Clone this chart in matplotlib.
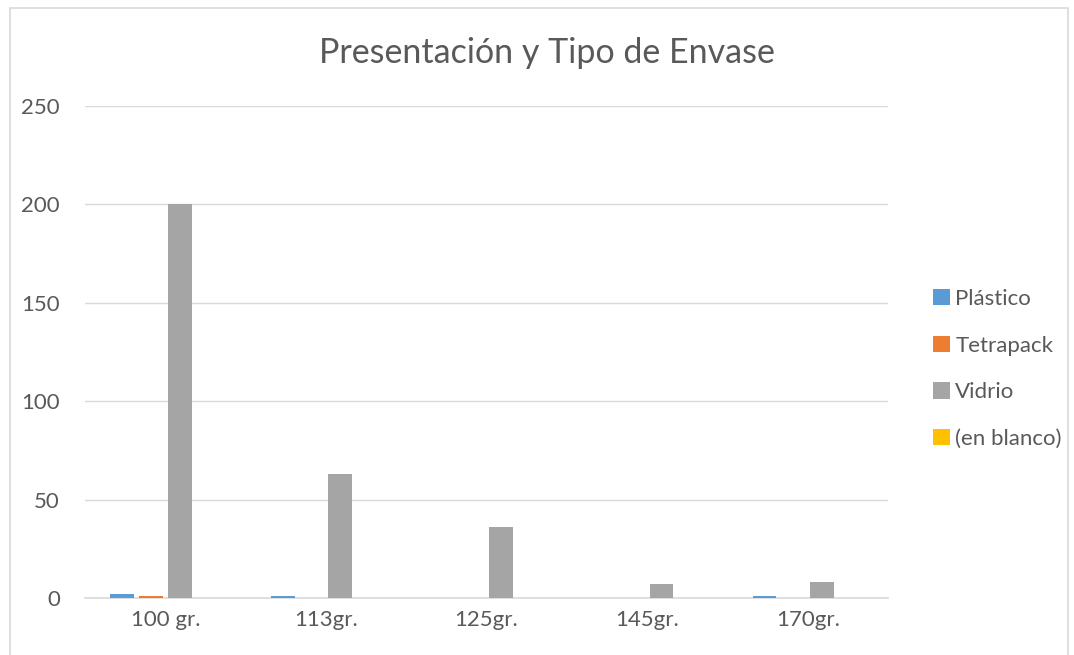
import matplotlib
matplotlib.use("Agg")
import matplotlib.pyplot as plt
from matplotlib.patches import Rectangle, Patch
import numpy as np

plt.rcParams['font.family'] = ['Lato', 'DejaVu Sans']

categories = ["100 gr.", "113gr.", "125gr.", "145gr.", "170gr."]
series_names = ["Plástico", "Tetrapack", "Vidrio", "(en blanco)"]
plastico = [2, 1, 0, 0, 1]
tetrapack = [1, 0, 0, 0, 0]
vidrio = [200, 63, 36, 7, 8]
en_blanco = [0, 0, 0, 0, 0]
colors = ["#5B9BD5", "#ED7D31", "#A5A5A5", "#FFC000"]

fig = plt.figure(figsize=(10.74, 6.55), dpi=100)
fig.patches.append(Rectangle((10 / 1074, -0.05), 1058 / 1074, 1.05 - 8 / 655,
                             transform=fig.transFigure, fill=False,
                             edgecolor="#D9D9D9", linewidth=1.2))

ax = fig.add_axes([85 / 1074, 1 - 598 / 655, 803 / 1074, 492 / 655])
x = np.arange(len(categories))
step = 0.179
width = 0.148
for i, (vals, col) in enumerate(zip([plastico, tetrapack, vidrio, en_blanco], colors)):
    ax.bar(x + (i - 1.5) * step, vals, width=width, color=col, zorder=3)

ax.set_xlim(-0.5, len(categories) - 0.5)
ax.set_ylim(0, 250)
ax.set_yticks(range(0, 251, 50))
ax.yaxis.grid(True, color="#D9D9D9", linewidth=1)
ax.set_axisbelow(True)
for s in ["top", "right", "left"]:
    ax.spines[s].set_visible(False)
ax.spines["bottom"].set_color("#D9D9D9")
ax.spines["bottom"].set_linewidth(1.2)
ax.set_xticks(x)
ax.set_xticklabels(categories)
ax.tick_params(axis="both", length=0, labelsize=16, colors="#595959")
ax.tick_params(axis="x", pad=9)
ax.tick_params(axis="y", pad=18)

fig.text(547 / 1074, 1 - 53 / 655, "Presentación y Tipo de Envase", ha="center",
         va="center", fontsize=24.5, color="#595959")

handles = [Patch(facecolor=c) for c in colors]
leg = fig.legend(handles, series_names, loc="center left",
                 bbox_to_anchor=(913 / 1074, 1 - 369 / 655), frameon=False,
                 fontsize=16, labelcolor="#595959", handlelength=0.75,
                 handleheight=0.75, handletextpad=0.25, labelspacing=1.2)

fig.savefig("out.png", dpi=100)
